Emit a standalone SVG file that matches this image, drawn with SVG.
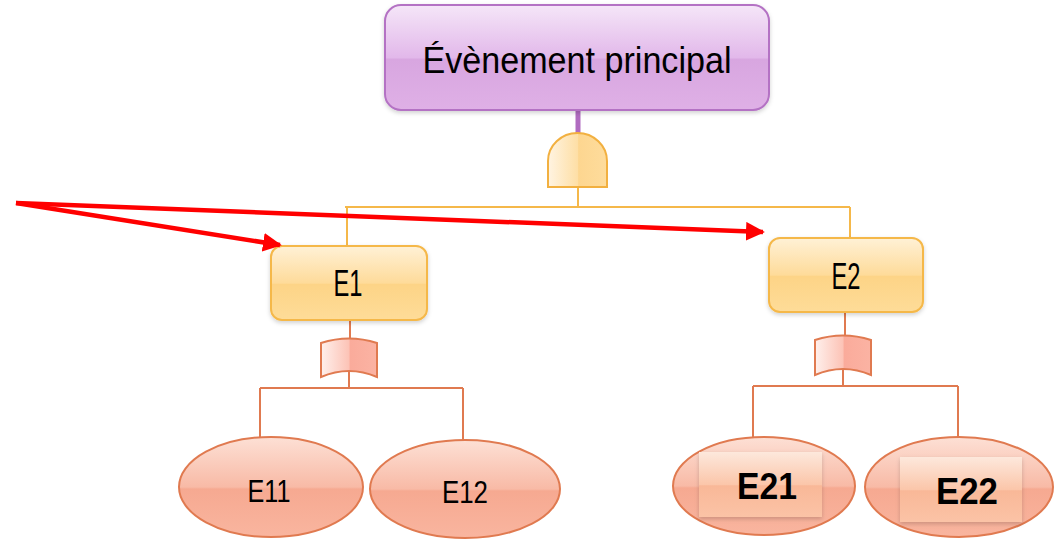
<svg xmlns="http://www.w3.org/2000/svg" width="1056" height="541" viewBox="0 0 1056 541">
<style>
.t{font-family:"Liberation Sans",Arial,sans-serif;fill:#000;text-anchor:middle}
.tb{font-family:"Liberation Sans",Arial,sans-serif;font-weight:bold;fill:#000;text-anchor:middle}
.c1{stroke:#f5b84a;stroke-width:2;fill:none}
.c2{stroke:#e07a50;stroke-width:2;fill:none}
.red{stroke:#ff0000;stroke-width:4.5;fill:none}
</style>
<defs>
<linearGradient id="gPurple" x1="0" y1="0" x2="0" y2="1">
<stop offset="0" stop-color="#f5e6f8"/><stop offset="0.5" stop-color="#e2b8ea"/><stop offset="0.52" stop-color="#d8a6e0"/><stop offset="1" stop-color="#dfb0e6"/>
</linearGradient>
<linearGradient id="gOrange" x1="0" y1="0" x2="0" y2="1">
<stop offset="0" stop-color="#fff1d6"/><stop offset="0.5" stop-color="#fedb9a"/><stop offset="0.52" stop-color="#fdd487"/><stop offset="1" stop-color="#fedc98"/>
</linearGradient>
<linearGradient id="gEll" x1="0" y1="0" x2="0" y2="1">
<stop offset="0" stop-color="#fde0d5"/><stop offset="0.5" stop-color="#f8baa6"/><stop offset="0.52" stop-color="#f6a991"/><stop offset="1" stop-color="#f9b59f"/>
</linearGradient>
<linearGradient id="gRect" x1="0" y1="0" x2="0" y2="1">
<stop offset="0" stop-color="#fde8dc"/><stop offset="0.5" stop-color="#fbc6aa"/><stop offset="0.52" stop-color="#f9b898"/><stop offset="1" stop-color="#fbc3a6"/>
</linearGradient>
<linearGradient id="gAnd" x1="0" y1="0" x2="1" y2="0">
<stop offset="0" stop-color="#fff4e2"/><stop offset="0.5" stop-color="#fedfa6"/><stop offset="0.52" stop-color="#fdd690"/><stop offset="1" stop-color="#fedc9c"/>
</linearGradient>
<linearGradient id="gOr" x1="0" y1="0" x2="1" y2="0">
<stop offset="0" stop-color="#fff0ec"/><stop offset="0.5" stop-color="#fcc3b6"/><stop offset="0.52" stop-color="#faab9b"/><stop offset="1" stop-color="#fbb3a3"/>
</linearGradient>
<filter id="sh" x="-10%" y="-10%" width="120%" height="130%">
<feDropShadow dx="0" dy="2" stdDeviation="2" flood-color="#000" flood-opacity="0.18"/>
</filter>
<marker id="ah" viewBox="0 0 10 10" refX="9" refY="5" markerWidth="4.2" markerHeight="4.2" orient="auto" markerUnits="strokeWidth">
<path d="M0,0 L10,5 L0,10 Z" fill="#ff0000"/>
</marker>
</defs>

<g id="connectors">
<line x1="578" y1="110" x2="578" y2="134" stroke="#b06cc0" stroke-width="5"/>
<path class="c1" d="M578,187 V207 M345,207 H850 M347,207 V246 M850,207 V238"/>
<path class="c2" d="M350,320 V340 M349,370 V388 M260,388 H463 M260,388 V438 M463,388 V441"/>
<path class="c2" d="M845,312 V337 M843,367 V386 M753,386 H958 M753,386 V438 M958,386 V439"/>
</g>

<g id="top">
<rect x="385" y="5" width="384" height="105" rx="16" fill="url(#gPurple)" stroke="#b472c4" stroke-width="2" filter="url(#sh)"/>
<text class="t" x="577" y="73" font-size="36" textLength="309" lengthAdjust="spacingAndGlyphs">Évènement principal</text>
</g>

<g id="andGate">
<path d="M548,187 V161 A29.5,28 0 0 1 607,161 V187 Z" fill="url(#gAnd)" stroke="#f2b040" stroke-width="2"/>
</g>

<g id="e1">
<rect x="271" y="246" width="156" height="74" rx="11" fill="url(#gOrange)" stroke="#f5b84a" stroke-width="2" filter="url(#sh)"/>
<text class="t" x="348" y="296" font-size="36" textLength="29" lengthAdjust="spacingAndGlyphs">E1</text>
</g>

<g id="e2">
<rect x="769" y="238" width="154" height="74" rx="11" fill="url(#gOrange)" stroke="#f5b84a" stroke-width="2" filter="url(#sh)"/>
<text class="t" x="846" y="289" font-size="36" textLength="29" lengthAdjust="spacingAndGlyphs">E2</text>
</g>

<g id="orGate1">
<path d="M321,343 Q349,334 377,343 V377 Q349,365 321,377 Z" fill="url(#gOr)" stroke="#e07a50" stroke-width="2"/>
</g>

<g id="orGate2">
<path d="M815,340 Q843,331 871,340 V375 Q843,363 815,375 Z" fill="url(#gOr)" stroke="#e07a50" stroke-width="2"/>
</g>

<g id="e11">
<ellipse cx="271" cy="487" rx="92" ry="50" fill="url(#gEll)" stroke="#e07a50" stroke-width="2"/>
<text class="t" x="269" y="502" font-size="31" textLength="43" lengthAdjust="spacingAndGlyphs">E11</text>
</g>

<g id="e12">
<ellipse cx="465" cy="489" rx="95" ry="49" fill="url(#gEll)" stroke="#e07a50" stroke-width="2"/>
<text class="t" x="465" y="503" font-size="31" textLength="46" lengthAdjust="spacingAndGlyphs">E12</text>
</g>

<g id="e21">
<ellipse cx="764" cy="486" rx="91" ry="49" fill="url(#gEll)" stroke="#e07a50" stroke-width="2"/>
<rect x="699" y="452" width="123" height="65" fill="url(#gRect)" filter="url(#sh)"/>
<text class="tb" x="767" y="499" font-size="36" textLength="60" lengthAdjust="spacingAndGlyphs">E21</text>
</g>

<g id="e22">
<ellipse cx="959" cy="487" rx="94" ry="50" fill="url(#gEll)" stroke="#e07a50" stroke-width="2"/>
<rect x="900" y="457" width="122" height="65" fill="url(#gRect)" filter="url(#sh)"/>
<text class="tb" x="967" y="504" font-size="36" textLength="62" lengthAdjust="spacingAndGlyphs">E22</text>
</g>

<g id="arrows">
<line class="red" x1="16" y1="203" x2="280" y2="245" marker-end="url(#ah)"/>
<line class="red" x1="16" y1="203" x2="763" y2="232" marker-end="url(#ah)"/>
</g>
</svg>
